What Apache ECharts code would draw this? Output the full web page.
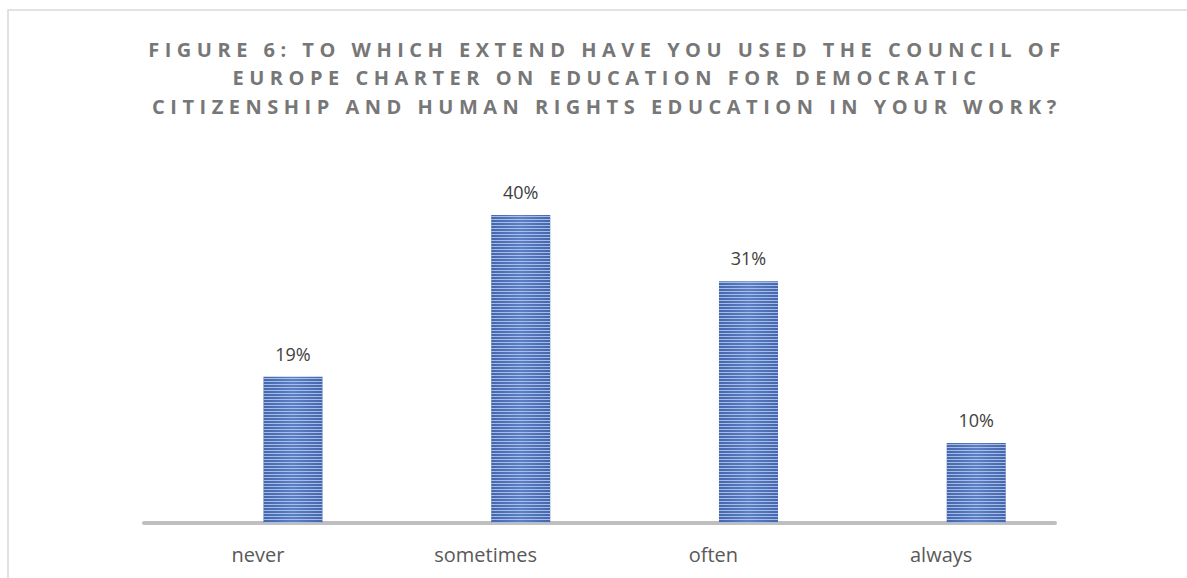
<!DOCTYPE html>
<html>
<head>
<meta charset="utf-8">
<script src="https://cdn.jsdelivr.net/npm/echarts@6/dist/echarts.min.js"></script>
<style>
  html, body { margin: 0; padding: 0; background: #ffffff; }
  #chart { width: 1187px; height: 578px; }
  #chart text[style*="bold"] { letter-spacing: 5.5px; }
</style>
</head>
<body>
<div id="chart"></div>
<script>
const titleLines = [
  'FIGURE 6: TO WHICH EXTEND HAVE YOU USED THE COUNCIL OF',
  'EUROPE CHARTER ON EDUCATION FOR DEMOCRATIC',
  'CITIZENSHIP AND HUMAN RIGHTS EDUCATION IN YOUR WORK?'
];
const categories = ['never', 'sometimes', 'often', 'always'];
const values = [19.0, 40.0, 31.4, 10.4];
const placeholder = ['-', '-', '-', '-'];

const chart = echarts.init(document.getElementById('chart'), null, { renderer: 'svg' });

const barFill = new echarts.graphic.LinearGradient(0, 0, 1, 0, [
  { offset: 0, color: '#4466ad' },
  { offset: 0.5, color: '#5a80c6' },
  { offset: 1, color: '#4466ad' }
]);

chart.setOption({
  backgroundColor: '#ffffff',
  animation: false,
  title: {
    text: titleLines.join('\n'),
    left: 607,
    textAlign: 'center',
    top: 35,
    padding: 0,
    textStyle: {
      fontFamily: 'Open Sans',
      fontWeight: 'bold',
      fontSize: 20,
      lineHeight: 28.5,
      color: '#777777'
    }
  },
  graphic: [{
    type: 'rect',
    silent: true,
    z: -10,
    shape: { x: 8, y: 10, width: 1400, height: 800 },
    style: { fill: 'none', stroke: '#d9d9d9', lineWidth: 1.5 }
  }],
  grid: { left: 144, right: 132, top: 176.5, bottom: 55, containLabel: false },
  xAxis: {
    type: 'category',
    data: categories,
    axisTick: { show: false },
    axisLine: { show: true, lineStyle: { color: '#bfbfbf', width: 4 } },
    axisLabel: { color: '#595959', fontSize: 20, fontFamily: 'Open Sans', margin: 21 }
  },
  yAxis: {
    type: 'value',
    min: 0,
    max: 45,
    show: false,
    splitLine: { show: false }
  },
  series: [
    {
      type: 'bar',
      name: 'spacer',
      data: placeholder,
      barWidth: 59,
      barGap: '19%',
      silent: true
    },
    {
      type: 'bar',
      name: 'share',
      data: values,
      barWidth: 59,
      barGap: '19%',
      itemStyle: {
        color: barFill,
        decal: {
          symbol: 'rect',
          symbolSize: 1,
          dashArrayX: [1, 0],
          dashArrayY: [1, 2],
          rotation: 0,
          color: 'rgba(190,206,240,0.8)'
        }
      },
      label: {
        show: true,
        position: 'top',
        distance: 14,
        formatter: p => Math.round(p.value) + '%',
        color: '#404040',
        fontSize: 18,
        fontFamily: 'Open Sans'
      }
    }
  ]
});
</script>
</body>
</html>
